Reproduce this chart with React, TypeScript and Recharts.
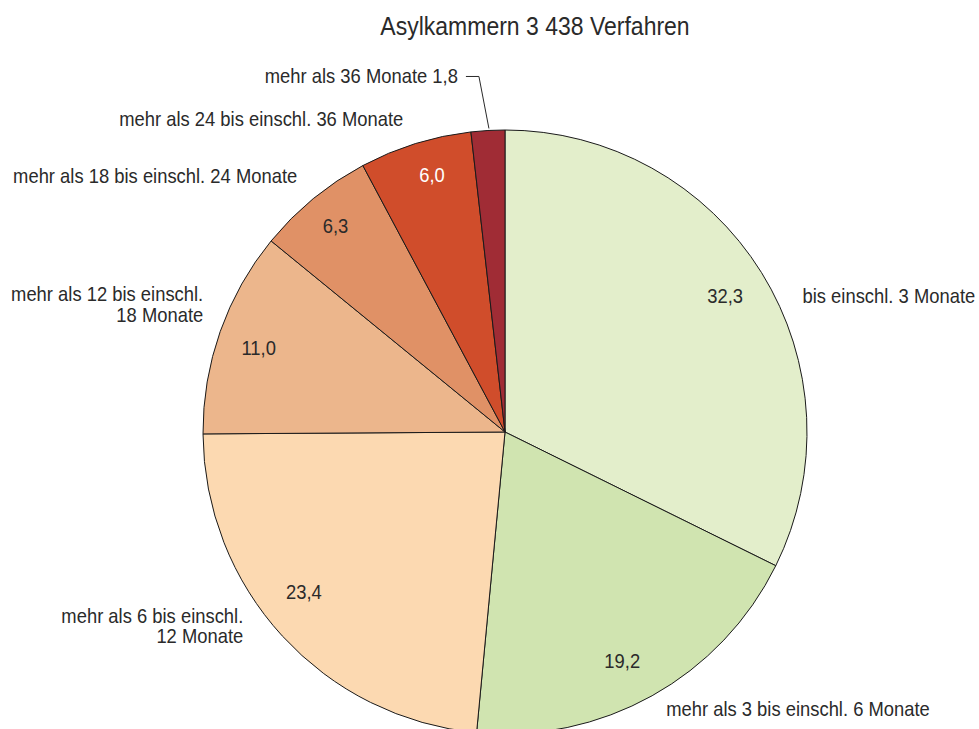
import { PieChart, Pie, Cell } from "recharts";

const TITLE = "Asylkammern 3 438 Verfahren";

// share of proceedings (%) by duration, clockwise from 12 o'clock
const values = [32.3, 19.2, 23.4, 11.0, 6.3, 6.0, 1.8];

const categoryLines = [
  ["bis einschl. 3 Monate"],
  ["mehr als 3 bis einschl. 6 Monate"],
  ["mehr als 6 bis einschl.", "12 Monate"],
  ["mehr als 12 bis einschl.", "18 Monate"],
  ["mehr als 18 bis einschl. 24 Monate"],
  ["mehr als 24 bis einschl. 36 Monate"],
  ["mehr als 36 Monate"],
];

const COLORS = [
  "#e3eecb",
  "#d0e4b0",
  "#fcd9b1",
  "#ecb68c",
  "#e09166",
  "#d04d2b",
  "#a02c35",
];

const VALUE_TEXT = ["#2a2a2a", "#2a2a2a", "#2a2a2a", "#2a2a2a", "#2a2a2a", "#ffffff", "#2a2a2a"];

// outside label nudge from the slice's outer arc midpoint: dx, dy, anchor
const LABEL_NUDGE: [number, number, "start" | "end"][] = [
  [41, 24, "start"],
  [14, 14, "start"],
  [-39, -20, "end"],
  [-17, -37, "end"],
  [-16, -22, "end"],
  [-12, -24, "end"],
  [-30, -54, "end"],
];

// small shift of the inside value labels
const VALUE_NUDGE: [number, number][] = [
  [0, 1],
  [-9, 3],
  [-10, -15],
  [-2, 2],
  [-5, -6],
  [4, -9],
  [0, 0],
];

const FONT = "'Liberation Sans', Arial, sans-serif";
const SQUEEZE = 0.92;
const RADIAN = Math.PI / 180;
const fmt = (v: number) => v.toFixed(1).replace(".", ",");

const data = values.map((v, i) => ({ name: categoryLines[i].join(" "), value: v }));

// condensed look: regular sans squeezed horizontally
function NarrowText({ x, y, anchor = "middle", size = 20, fill = "#2a2a2a", children }: any) {
  return (
    <text
      transform={`translate(${x},${y}) scale(${SQUEEZE},1)`}
      textAnchor={anchor}
      dominantBaseline="central"
      fontFamily={FONT}
      fontSize={size}
      fill={fill}
    >
      {children}
    </text>
  );
}

const renderLabel = (props: any) => {
  const { cx, cy, midAngle, outerRadius, index, value } = props;
  const cos = Math.cos(-midAngle * RADIAN);
  const sin = Math.sin(-midAngle * RADIAN);
  const small = value < 3;

  // value inside the slice
  const ir = outerRadius * 0.858;
  const vx = cx + ir * cos + VALUE_NUDGE[index][0];
  const vy = cy + ir * sin + VALUE_NUDGE[index][1];

  // category label outside
  const ex = cx + outerRadius * cos;
  const ey = cy + outerRadius * sin;
  const [dx, dy, anchor] = LABEL_NUDGE[index];
  const lx = ex + dx;
  const ly = ey + dy;
  const lines = categoryLines[index].slice();
  if (small) lines[lines.length - 1] += " " + fmt(value);

  return (
    <g key={`lbl-${index}`}>
      {!small && (
        <NarrowText x={vx} y={vy} fill={VALUE_TEXT[index]}>
          {fmt(value)}
        </NarrowText>
      )}
      {lines.map((ln, k) => (
        <NarrowText key={k} x={lx} y={ly + k * 20.5} anchor={anchor}>
          {ln}
        </NarrowText>
      ))}
      {small && (
        <polyline
          points={`${lx + 8},${ly} ${lx + 21},${ly} ${ex + 1},${ey - 2}`}
          fill="none"
          stroke="#2a2a2a"
          strokeWidth={1}
        />
      )}
    </g>
  );
};

export default function App() {
  return (
    <div style={{ position: "absolute", left: 0, top: 0, width: 979, height: 729, background: "#fff" }}>
      <PieChart width={979} height={729} margin={{ top: 0, right: 0, bottom: 0, left: 0 }}>
        <NarrowText x={535} y={26} size={25}>
          {TITLE}
        </NarrowText>
        <Pie
          data={data}
          dataKey="value"
          cx={505}
          cy={432}
          outerRadius={302}
          startAngle={90}
          endAngle={-270}
          stroke="#1a1a1a"
          strokeWidth={1}
          label={renderLabel}
          labelLine={false}
          isAnimationActive={false}
        >
          {data.map((_, i) => (
            <Cell key={`cell-${i}`} fill={COLORS[i]} />
          ))}
        </Pie>
      </PieChart>
    </div>
  );
}
